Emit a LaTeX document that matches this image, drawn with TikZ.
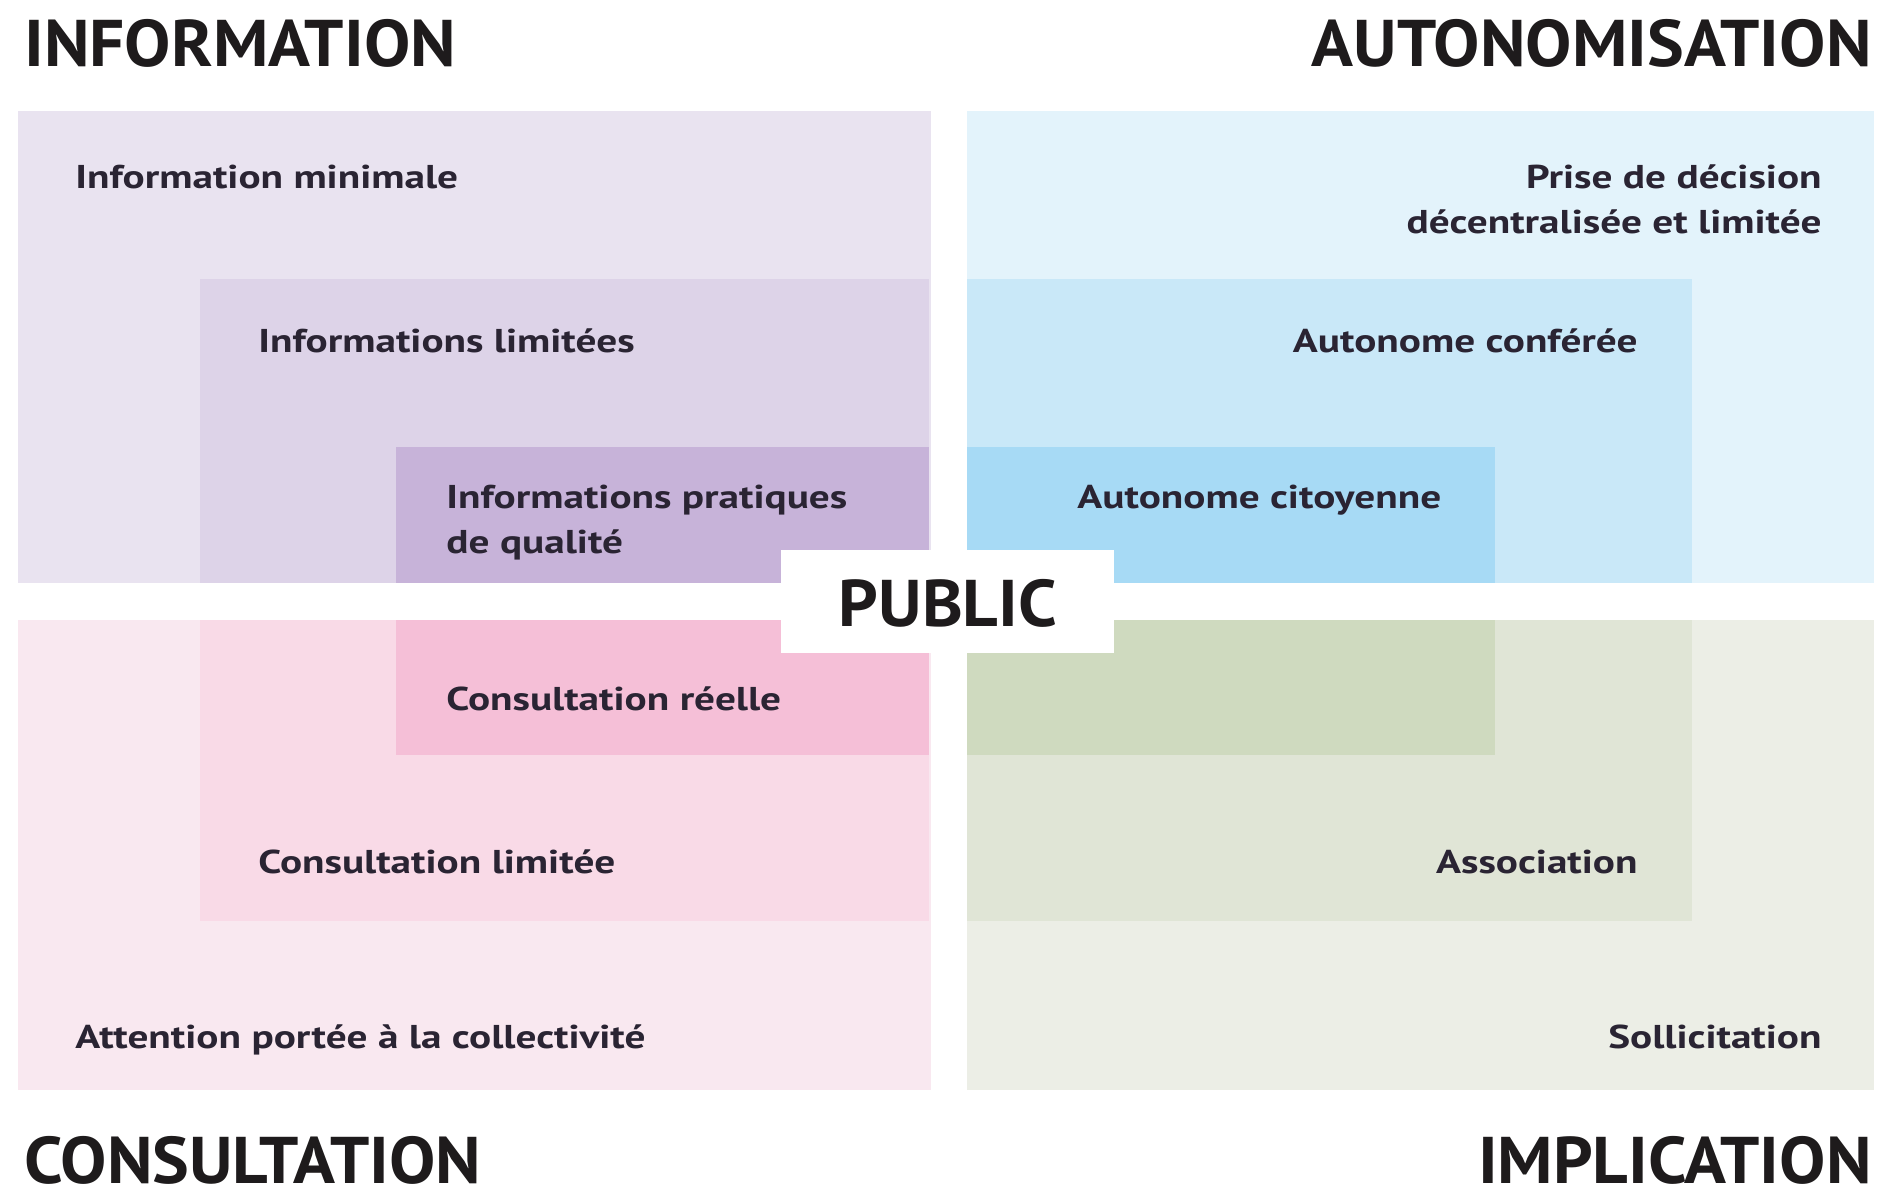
\documentclass[tikz,border=0pt]{standalone}
\usepackage{fontspec}
\setmainfont{PT Sans}
\newfontfamily\lblfont[FakeStretch=1.25]{PT Sans}
\newfontfamily\headfont[FakeStretch=1.05]{PT Sans}
\usepackage{xcolor}
\usepackage{tikz}

\definecolor{infoA}{HTML}{E9E3F0}
\definecolor{infoB}{HTML}{DDD3E8}
\definecolor{infoC}{HTML}{C7B3D9}
\definecolor{autoA}{HTML}{E3F3FB}
\definecolor{autoB}{HTML}{C9E8F8}
\definecolor{autoC}{HTML}{A7DAF5}
\definecolor{consA}{HTML}{F9E8F0}
\definecolor{consB}{HTML}{F9DAE7}
\definecolor{consC}{HTML}{F5BFD7}
\definecolor{implA}{HTML}{ECEEE6}
\definecolor{implB}{HTML}{E0E5D6}
\definecolor{implC}{HTML}{CFDABF}
\definecolor{txtdark}{HTML}{2A2433}
\definecolor{headdark}{HTML}{1E1B1C}

\begin{document}
\begin{tikzpicture}[x=0.5pt,y=-0.5pt]
        \tikzstyle{every node}+=[inner sep=0pt]
        \tikzset{
          lbl/.style={font=\lblfont\bfseries\fontsize{16.5}{22.5}\selectfont, text=txtdark, align=left},
          lblr/.style={lbl, align=right},
          head/.style={font=\headfont\bfseries\fontsize{33}{40}\selectfont, text=headdark}
        }
        \useasboundingbox (0,0) rectangle (1878,1191);
        \fill [white] (0,0) rectangle (1878,1191);
        % information
        \fill [infoA] (18,111) rectangle (931,583);
        \fill [infoB] (200,279) rectangle (929,583);
        \fill [infoC] (396,447) rectangle (929,583);
        % autonomisation
        \fill [autoA] (967,111) rectangle (1874,583);
        \fill [autoB] (967,279) rectangle (1692,583);
        \fill [autoC] (967,447) rectangle (1495,583);
        % consultation
        \fill [consA] (18,620) rectangle (931,1090);
        \fill [consB] (200,620) rectangle (929,921);
        \fill [consC] (396,620) rectangle (929,755);
        % implication
        \fill [implA] (967,620) rectangle (1874,1090);
        \fill [implB] (967,620) rectangle (1692,921);
        \fill [implC] (967,620) rectangle (1495,755);
        % centre
        \fill [white] (781,550) rectangle (1114,653);
        \node (public) [head, anchor=base] at (948,626) {PUBLIC};
        % headings
        \node (information) [head, anchor=base west] at (24,66) {INFORMATION};
        \node (autonomisation) [head, anchor=base east] at (1872,66) {AUTONOMISATION};
        \node (consultation) [head, anchor=base west] at (24,1183) {CONSULTATION};
        \node (implication) [head, anchor=base east] at (1872,1183) {IMPLICATION};
        % labels
        \node (minimale) [lbl, anchor=base west] at (75,188) {Information minimale};
        \node (limitees) [lbl, anchor=base west] at (258,352) {Informations limitées};
        \node (pratiques) [lbl, anchor=west] at (446,523) {Informations pratiques\\de qualité};
        \node (prise) [lblr, anchor=east] at (1822,199) {Prise de décision\\décentralisée et limitée};
        \node (conferee) [lbl, anchor=base east] at (1638,352) {Autonome conférée};
        \node (citoyenne) [lbl, anchor=base west] at (1077,508) {Autonome citoyenne};
        \node (reelle) [lbl, anchor=base west] at (446,710) {Consultation réelle};
        \node (climitee) [lbl, anchor=base west] at (258,873) {Consultation limitée};
        \node (attention) [lbl, anchor=base west] at (75,1048) {Attention portée à la collectivité};
        \node (association) [lbl, anchor=base east] at (1638,873) {Association};
        \node (sollicitation) [lbl, anchor=base east] at (1822,1048) {Sollicitation};
    \end{tikzpicture}
\end{document}
